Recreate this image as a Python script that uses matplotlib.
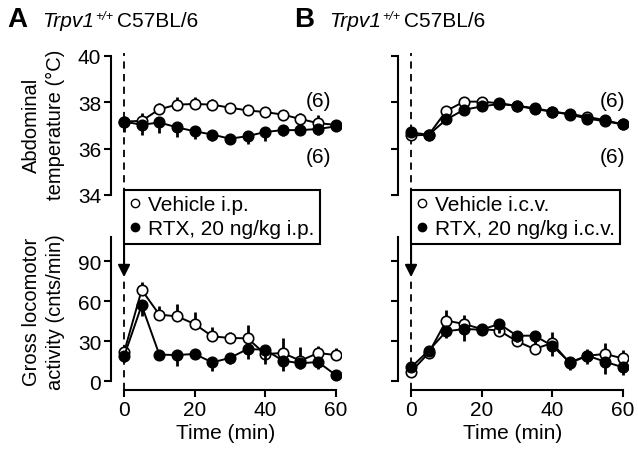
import matplotlib
matplotlib.use("Agg")
import matplotlib.pyplot as plt
from matplotlib.lines import Line2D
import numpy as np

# CONFIGURACOES
plt.rcParams["font.family"] = ["Liberation Sans", "DejaVu Sans"]

time = [0, 5, 10, 15, 20, 25, 30, 35, 40, 45, 50, 55, 60]

# painel A - i.p.
a_temp_veh = [37.17, 37.2, 37.7, 37.9, 37.93, 37.9, 37.77, 37.65, 37.58, 37.47, 37.28, 37.1, 37.03]
a_temp_veh_err = [0.2, 0.35, 0.26, 0.33, 0.32, 0.24, 0.2, 0.18, 0.2, 0.2, 0.24, 0.37, 0.2]
a_temp_rtx = [37.17, 37.03, 37.13, 36.92, 36.75, 36.61, 36.43, 36.54, 36.72, 36.8, 36.8, 36.85, 36.96]
a_temp_rtx_err = [0.45, 0.46, 0.44, 0.4, 0.35, 0.28, 0.2, 0.35, 0.39, 0.25, 0.18, 0.24, 0.2]

a_loc_veh = [21.7, 68.5, 50, 48.7, 43, 33.7, 32.5, 32.2, 20.5, 21.2, 15.5, 21.2, 19.7]
a_loc_veh_err = [3.8, 5.8, 6.8, 9.2, 8.8, 6.8, 4.8, 10, 4, 11, 10, 5, 5]
a_loc_rtx = [18.7, 57, 20, 19.7, 20.5, 14.2, 17.5, 24.2, 23.7, 15.5, 13.5, 14.5, 4.7]
a_loc_rtx_err = [4.5, 8, 2, 8, 3.8, 6.2, 4.5, 7.5, 10.7, 7.5, 4, 5.5, 2]

# painel B - i.c.v.
b_temp_veh = [36.57, 36.6, 37.63, 38.03, 38.03, 37.96, 37.85, 37.75, 37.6, 37.5, 37.37, 37.23, 37.05]
b_temp_veh_err = [0.1, 0.12, 0.15, 0.15, 0.12, 0.1, 0.1, 0.1, 0.12, 0.12, 0.15, 0.15, 0.12]
b_temp_rtx = [36.7, 36.6, 37.26, 37.68, 37.82, 37.93, 37.85, 37.71, 37.6, 37.47, 37.3, 37.18, 37.05]
b_temp_rtx_err = [0.15, 0.15, 0.15, 0.15, 0.12, 0.12, 0.1, 0.12, 0.15, 0.15, 0.15, 0.15, 0.2]

b_loc_veh = [7.2, 21.2, 45.5, 43, 39.2, 38, 30, 24.2, 28.7, 13.7, 19.2, 20.5, 17.2]
b_loc_veh_err = [3, 3, 8, 7, 4, 6, 6, 6, 8, 4, 5, 8, 6]
b_loc_rtx = [10.5, 23, 37.5, 39.2, 38.7, 43, 34.2, 34.2, 26.7, 14.2, 19.2, 14.7, 10.5]
b_loc_rtx_err = [3, 3, 5, 9, 3, 7, 5, 6, 8, 6, 6, 9, 6]

temp_ticks = [34, 36, 38, 40]
loc_ticks = [0, 30, 60, 90]
time_ticks = [0, 20, 40, 60]

FS = 15
W, H = 638, 452
fig = plt.figure(figsize=(6.38, 4.52), dpi=100)
renderer = fig.canvas.get_renderer()

def style_axes(ax, bottom_axis):
    ax.spines["top"].set_visible(False)
    ax.spines["right"].set_visible(False)
    ax.spines["left"].set_linewidth(1.5)
    ax.spines["bottom"].set_linewidth(1.5)
    ax.tick_params(width=1.5, length=5, labelsize=FS, pad=2)
    ax.set_xlim(-3.7, 61.5)
    if bottom_axis:
        ax.spines["bottom"].set_bounds(0, 60)
        ax.set_xticks(time_ticks)
        ax.set_xlabel("Time (min)", fontsize=FS, labelpad=3)
    else:
        ax.spines["bottom"].set_visible(False)
        ax.set_xticks([])

def plot_pair(ax, veh, veh_err, rtx, rtx_err):
    z = np.zeros(len(time))
    ax.errorbar(time, veh, yerr=[z, veh_err], fmt="-o", color="k", mfc="white",
                mec="k", ms=7.5, mew=1.2, lw=1.4, elinewidth=2, capsize=0, zorder=3)
    ax.errorbar(time, rtx, yerr=[rtx_err, z], fmt="-o", color="k", mfc="k",
                mec="k", ms=7.5, mew=1.2, lw=1.4, elinewidth=2, capsize=0, zorder=4)

def text_after(prev, gap_px, dy_px, s, **kw):
    # coloca um texto logo depois do anterior
    x1 = prev.get_window_extent(renderer).x1
    return fig.text((x1 + gap_px) / W, yb + dy_px / H, s, va="baseline", ha="left", **kw)

panels = [
    (111, "A", a_temp_veh, a_temp_veh_err, a_temp_rtx, a_temp_rtx_err,
     a_loc_veh, a_loc_veh_err, a_loc_rtx, a_loc_rtx_err, "i.p.", 55, True),
    (398, "B", b_temp_veh, b_temp_veh_err, b_temp_rtx, b_temp_rtx_err,
     b_loc_veh, b_loc_veh_err, b_loc_rtx, b_loc_rtx_err, "i.c.v.", 57, False),
]

yb = 1 - 27 / H

for left_px, letter, tv, tve, tr, tre, lv, lve, lr, lre, route, nx, show_labels in panels:
    left = left_px / W
    ax1 = fig.add_axes([left, 0.5664, 0.3605, 0.3075])
    ax2 = fig.add_axes([left, 0.1350, 0.3605, 0.3385])
    ax2.patch.set_visible(False)

    # temperatura
    plot_pair(ax1, tv, tve, tr, tre)
    ax1.set_ylim(34, 40)
    ax1.set_yticks(temp_ticks)
    style_axes(ax1, False)
    ax1.plot([0, 0], [34, 40.15], ls=(0, (4, 3)), color="k", lw=1.3, clip_on=False, zorder=1)
    ax1.text(nx, 38.07, "(6)", fontsize=FS, ha="center", va="center")
    ax1.text(nx, 35.65, "(6)", fontsize=FS, ha="center", va="center")

    # locomocao
    plot_pair(ax2, lv, lve, lr, lre)
    ax2.set_ylim(-6.5, 108.2)
    ax2.set_yticks(loc_ticks)
    ax2.spines["left"].set_bounds(0, 108.2)
    style_axes(ax2, True)
    ax2.plot([0, 0], [-6.5, 77], ls=(0, (4, 3)), color="k", lw=1.3, clip_on=False, zorder=1)
    ax2.annotate("", xy=(0, 76), xytext=(0, 106),
                 arrowprops=dict(arrowstyle="-|>", color="k", lw=1.5, mutation_scale=18),
                 annotation_clip=False)

    if not show_labels:
        ax1.set_yticklabels([])
        ax2.set_yticklabels([])

    handles = [
        Line2D([], [], ls="none", marker="o", mfc="white", mec="k", ms=6, mew=1),
        Line2D([], [], ls="none", marker="o", mfc="k", mec="k", ms=6, mew=1),
    ]
    x0 = (left_px + 13) / W
    leg = fig.legend(handles, ["Vehicle " + route, "RTX, 20 ng/kg " + route],
                     loc="upper left", bbox_to_anchor=(x0, 1 - 191 / H),
                     fontsize=FS, frameon=True, fancybox=False, framealpha=1,
                     edgecolor="k", handlelength=0.6, handletextpad=0.3,
                     borderpad=0.25, labelspacing=0.25, borderaxespad=0)
    leg.get_frame().set_linewidth(1.5)

    # titulos
    fig.text((left_px - 104) / W, yb, letter, fontsize=20, fontweight="bold",
             va="baseline", ha="left")
    t1 = fig.text((left_px - 69) / W, yb, "Trpv1", fontsize=15, style="italic",
                  va="baseline", ha="left")
    t2 = text_after(t1, 1, 7, "+/+", fontsize=9, style="italic")
    text_after(t2, 4, 0, "C57BL/6", fontsize=15)

fig.text(0.068, 1 - 125 / H, "Abdominal\ntemperature (°C)", rotation=90,
         fontsize=14.5, ha="center", va="center", linespacing=1.35)
fig.text(0.068, 1 - 312 / H, "Gross locomotor\nactivity (cnts/min)", rotation=90,
         fontsize=14.5, ha="center", va="center", linespacing=1.35)

fig.savefig("out.png", dpi=100)
